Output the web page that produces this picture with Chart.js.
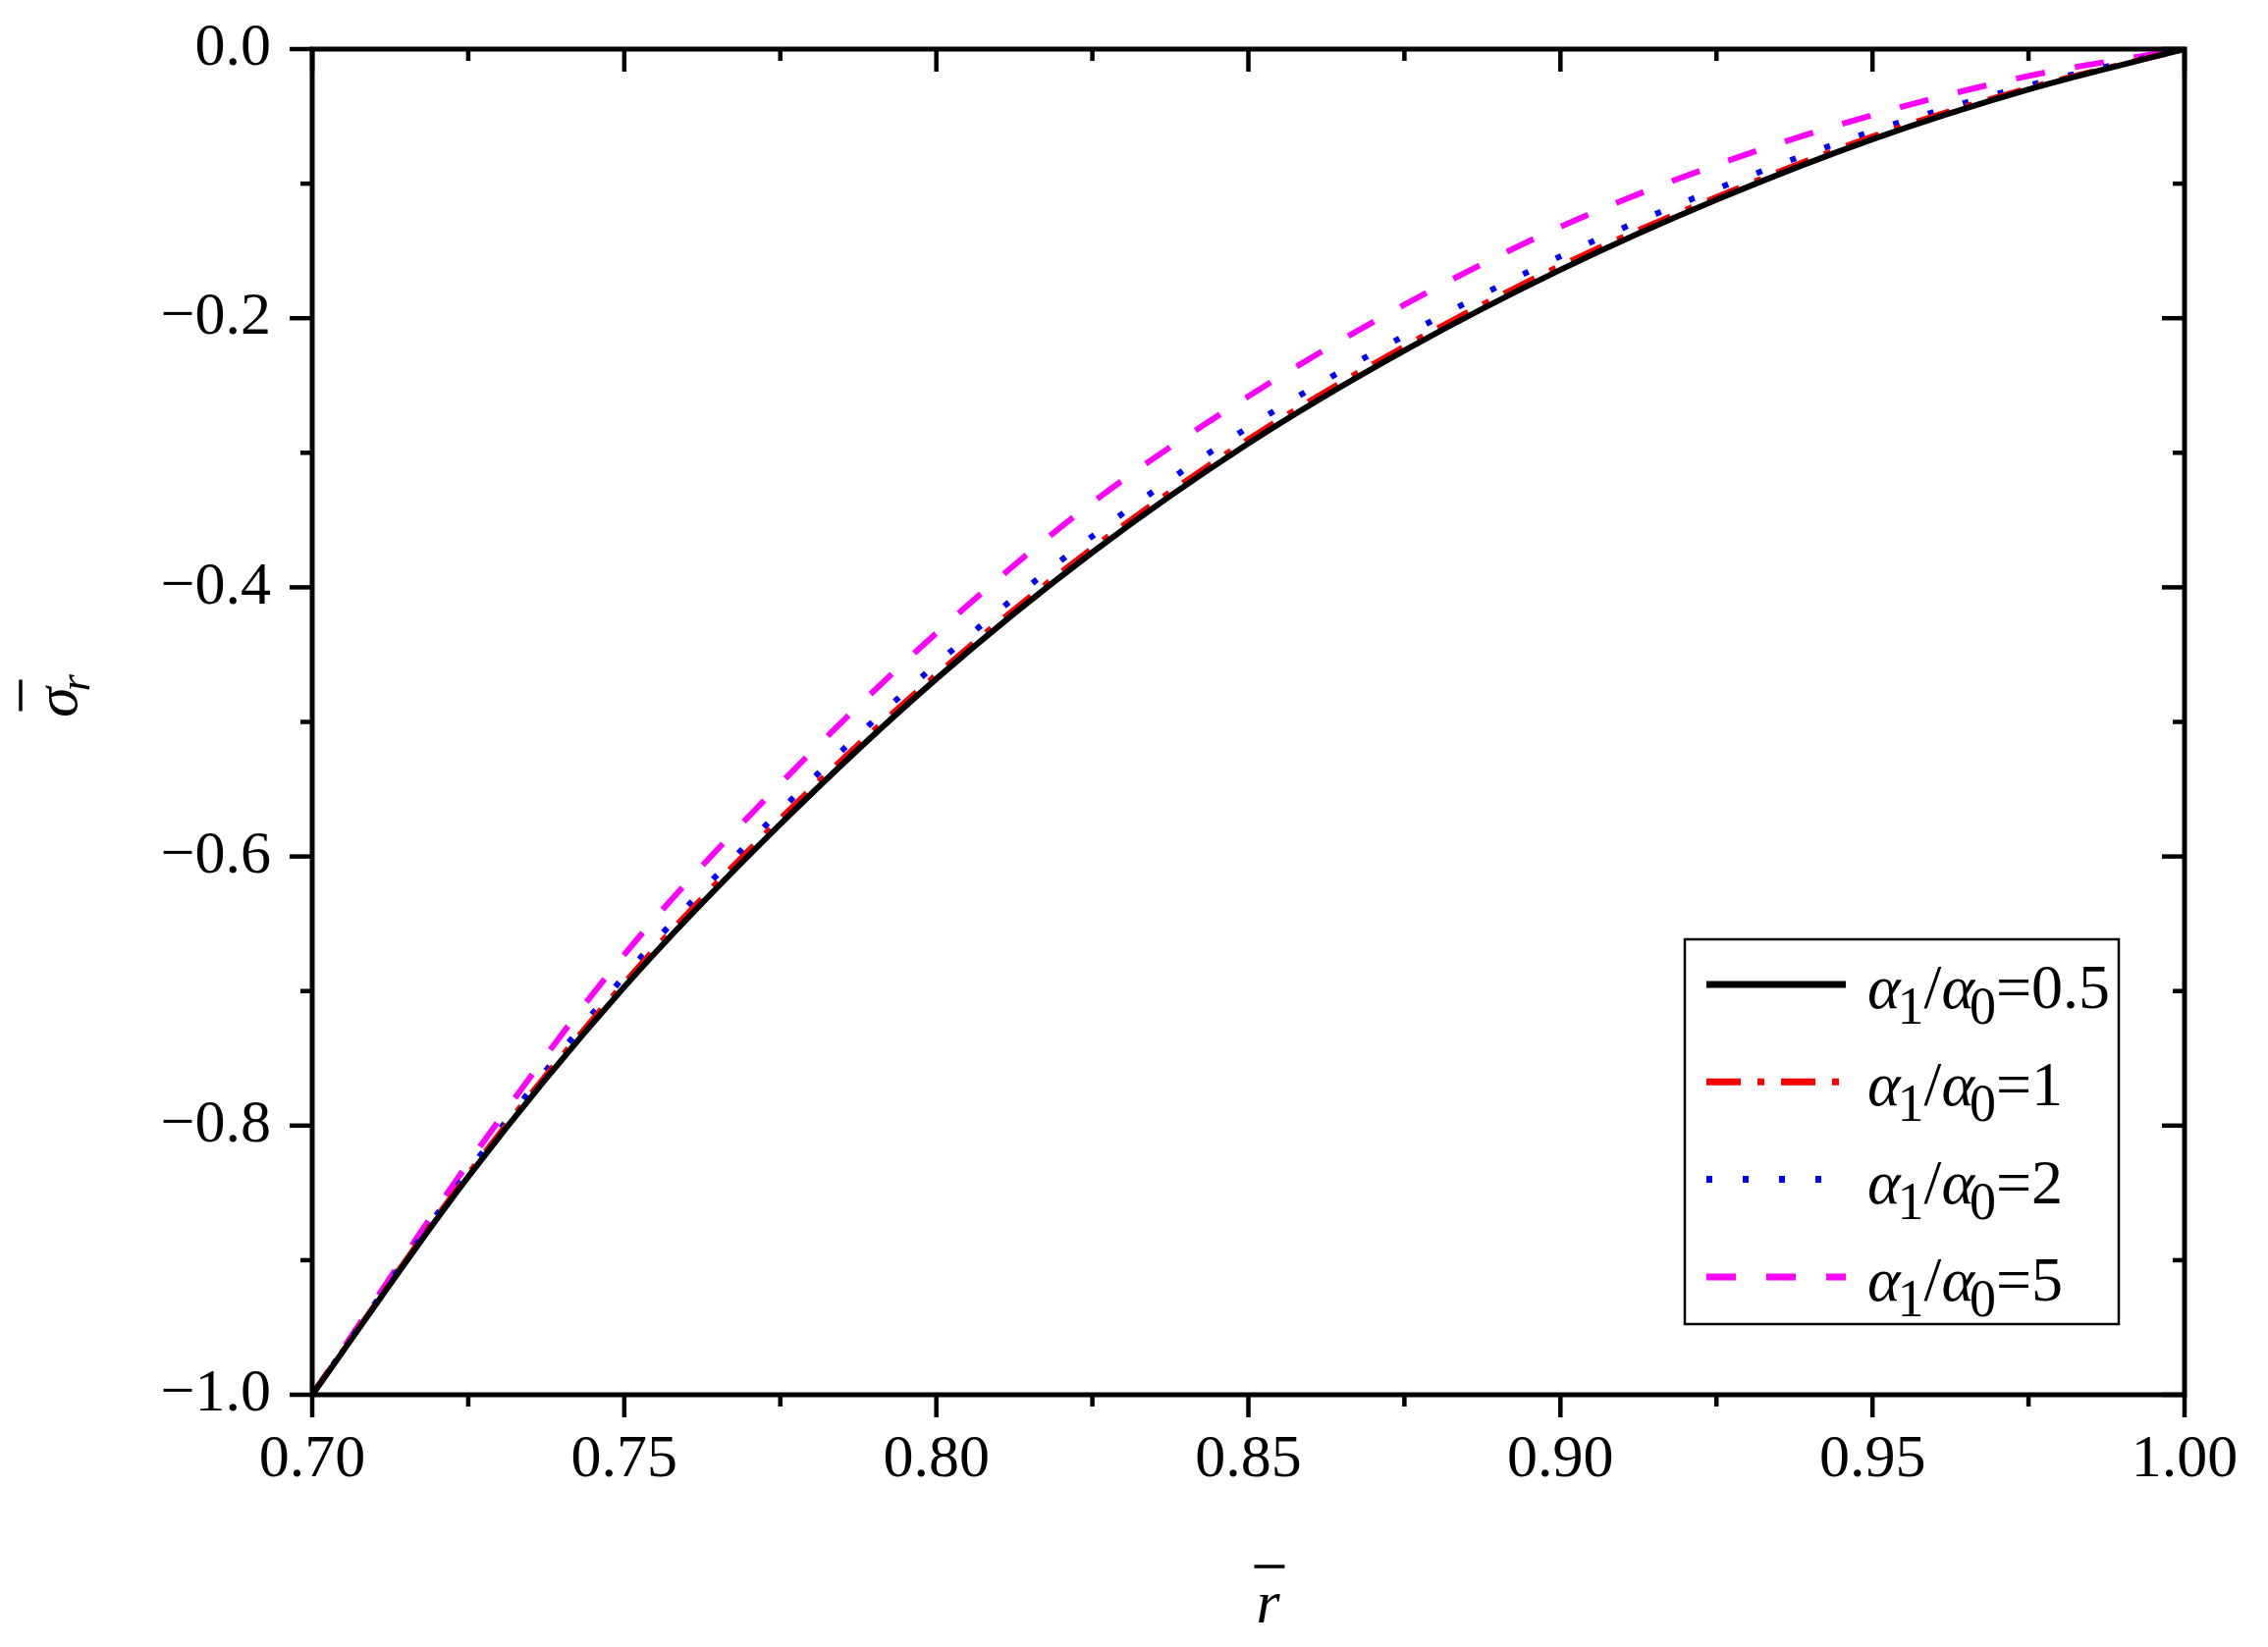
<!DOCTYPE html>
<html>
<head>
<meta charset="utf-8">
<script src="https://cdn.jsdelivr.net/npm/chart.js@4.4.1/dist/chart.umd.min.js"></script>
<style>
  html, body { margin: 0; padding: 0; background: #fff; }
  #wrap { width: 2310px; height: 1678px; }
</style>
</head>
<body>
<div id="wrap"><canvas id="c" width="2310" height="1678"></canvas></div>
<script>
// ---- data ----
const rBar = [0.700, 0.725, 0.750, 0.775, 0.800, 0.825, 0.850, 0.875, 0.900, 0.925, 0.950, 0.975, 1.000];
const sigmaRatio05 = [-1.000, -0.838, -0.697, -0.576, -0.468, -0.374, -0.293, -0.224, -0.164, -0.112, -0.067, -0.030, 0];
const sigmaRatio1  = [-1.000, -0.836, -0.694, -0.572, -0.465, -0.371, -0.290, -0.221, -0.161, -0.110, -0.065, -0.029, 0];
const sigmaRatio2  = [-1.000, -0.834, -0.689, -0.566, -0.457, -0.362, -0.281, -0.213, -0.154, -0.104, -0.061, -0.027, 0];
const sigmaRatio5  = [-1.000, -0.828, -0.673, -0.546, -0.434, -0.337, -0.258, -0.190, -0.132, -0.086, -0.049, -0.020, 0];
const ratioLabels = ['0.5', '1', '2', '5'];

const xMajorTicks = [0.70, 0.75, 0.80, 0.85, 0.90, 0.95, 1.00];
const xMinorTicks = [0.725, 0.775, 0.825, 0.875, 0.925, 0.975];
const yMajorTicks = [-1.0, -0.8, -0.6, -0.4, -0.2, 0.0];
const yMinorTicks = [-0.9, -0.7, -0.5, -0.3, -0.1];
const xTickLabels = ['0.70', '0.75', '0.80', '0.85', '0.90', '0.95', '1.00'];
const yTickLabels = ['\u22121.0', '\u22120.8', '\u22120.6', '\u22120.4', '\u22120.2', '0.0'];

const FONT = '"Liberation Serif", "Times New Roman", serif';

function pts(ys) { return rBar.map((r, i) => ({ x: r, y: ys[i] })); }

const seriesStyles = [
  { data: sigmaRatio05, color: '#000000', dash: [] },
  { data: sigmaRatio1,  color: '#ff0000', dash: [35, 17, 7, 17] },
  { data: sigmaRatio2,  color: '#0000ff', dash: [6, 31] },
  { data: sigmaRatio5,  color: '#ff00ff', dash: [30, 31] }
];

const datasets = seriesStyles.map((s, i) => ({
  label: '\u03b11/\u03b10=' + ratioLabels[i],
  data: pts(s.data),
  borderColor: s.color,
  backgroundColor: s.color,
  borderWidth: 6,
  borderDash: s.dash,
  pointRadius: 0,
  fill: false,
  cubicInterpolationMode: 'monotone'
}));

function line(ctx, x1, y1, x2, y2) {
  ctx.beginPath(); ctx.moveTo(x1, y1); ctx.lineTo(x2, y2); ctx.stroke();
}

const framePlugin = {
  id: 'frame',
  afterDatasetsDraw(chart) {
    const { ctx, chartArea: a, scales: { x, y } } = chart;
    ctx.save();
    ctx.strokeStyle = '#000';
    ctx.setLineDash([]);
    ctx.lineWidth = 5;
    ctx.lineJoin = 'miter';
    ctx.strokeRect(a.left, a.top, a.right - a.left, a.bottom - a.top);
    ctx.lineWidth = 4.5;
    ctx.lineCap = 'butt';
    const MAJ = 23, MIN = 12;
    xMajorTicks.forEach(v => { const p = x.getPixelForValue(v); line(ctx, p, a.bottom, p, a.bottom + MAJ); line(ctx, p, a.top, p, a.top + MAJ); });
    xMinorTicks.forEach(v => { const p = x.getPixelForValue(v); line(ctx, p, a.bottom, p, a.bottom + MIN); line(ctx, p, a.top, p, a.top + MIN); });
    yMajorTicks.forEach(v => { const p = y.getPixelForValue(v); line(ctx, a.left, p, a.left - MAJ, p); line(ctx, a.right, p, a.right - MAJ, p); });
    yMinorTicks.forEach(v => { const p = y.getPixelForValue(v); line(ctx, a.left, p, a.left - MIN, p); line(ctx, a.right, p, a.right - MIN, p); });
    ctx.restore();
  },
  afterDraw(chart) {
    const { ctx, chartArea: a } = chart;
    ctx.save();
    ctx.fillStyle = '#000';
    ctx.strokeStyle = '#000';
    ctx.textBaseline = 'alphabetic';
    ctx.textAlign = 'left';

    // x-axis title: r with overbar
    const cx = (a.left + a.right) / 2 + 20;
    ctx.font = 'italic 62px ' + FONT;
    const rw = ctx.measureText('r').width;
    const xb = a.bottom + 232;
    ctx.fillText('r', cx - rw / 2, xb);
    ctx.lineWidth = 3.5;
    line(ctx, cx - 14, xb - 57, cx + 17, xb - 57);

    // y-axis title: sigma with overbar, subscript r (rotated)
    ctx.save();
    ctx.translate(78, (a.top + a.bottom) / 2 - 20);
    ctx.rotate(-Math.PI / 2);
    ctx.font = 'italic 62px ' + FONT;
    const sw = ctx.measureText('\u03c3').width;
    ctx.fillText('\u03c3', -sw / 2, 0);
    ctx.font = 'italic 44px ' + FONT;
    ctx.fillText('r', sw / 2 - 4, 13);
    ctx.lineWidth = 3.5;
    line(ctx, -9, -57, 23, -57);
    ctx.restore();

    // legend
    const L = a.right - 509, T = a.bottom - 464, W = 442, H = 392;
    ctx.lineWidth = 2.5;
    ctx.setLineDash([]);
    ctx.strokeRect(L, T, W, H);
    chart.data.datasets.forEach((ds, i) => {
      const ly = T + 46 + i * 99.3;
      ctx.save();
      ctx.strokeStyle = ds.borderColor;
      ctx.lineWidth = 7;
      ctx.setLineDash(ds.borderDash || []);
      line(ctx, L + 22, ly, L + 164, ly);
      ctx.restore();
      let tx = L + 186;
      const bl = ly + 24;
      const seg = (txt, font, dy) => { ctx.font = font; ctx.fillText(txt, tx, bl + dy); tx += ctx.measureText(txt).width; };
      seg('\u03b1', 'italic 64px ' + FONT, 0);
      tx -= 3;
      seg('1', '54px ' + FONT, 16);
      seg('/', '64px ' + FONT, 0);
      seg('\u03b1', 'italic 64px ' + FONT, 0);
      tx -= 5;
      seg('0', '54px ' + FONT, 16);
      seg('=' + ratioLabels[i], '64px ' + FONT, 0);
    });
    ctx.restore();
  }
};

new Chart(document.getElementById('c'), {
  type: 'line',
  data: { datasets },
  options: {
    responsive: false,
    animation: false,
    events: [],
    layout: { padding: { top: 50, right: 85, left: 0, bottom: 0 } },
    plugins: { legend: { display: false }, tooltip: { enabled: false } },
    scales: {
      x: {
        type: 'linear', min: 0.70, max: 1.00,
        afterBuildTicks: s => { s.ticks = xMajorTicks.map(v => ({ value: v })); },
        afterFit: s => { s.height = 257; s.paddingLeft = 0; s.paddingRight = 0; },
        grid: { display: false, drawTicks: false },
        border: { display: false },
        ticks: {
          autoSkip: false, maxRotation: 0, padding: 30, color: '#000',
          font: { family: FONT, size: 62 },
          callback: (v, i) => xTickLabels[i]
        }
      },
      y: {
        type: 'linear', min: -1.0, max: 0.0,
        afterBuildTicks: s => { s.ticks = yMajorTicks.map(v => ({ value: v })); },
        afterFit: s => { s.width = 318; s.paddingTop = 0; s.paddingBottom = 0; },
        grid: { display: false, drawTicks: false },
        border: { display: false },
        ticks: {
          autoSkip: false, padding: 42, color: '#000',
          font: { family: FONT, size: 62 },
          callback: (v, i) => yTickLabels[i]
        }
      }
    }
  },
  plugins: [framePlugin]
});
</script>
</body>
</html>
